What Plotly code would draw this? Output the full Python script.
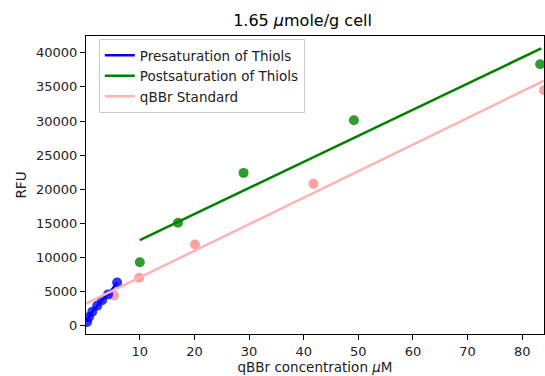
import plotly.graph_objects as go

# Data
pre_x = [0.35, 0.7, 1.3, 2.2, 3.1, 4.2, 5.85]
pre_y = [550, 1300, 2050, 2950, 3750, 4600, 6350]

post_x = [10, 17, 29, 49.2, 83.3]
post_y = [9300, 15100, 22400, 30100, 38300]
post_fit_x = [10, 83.5]
post_fit_y = [12550, 40640]

std_x = [5.25, 9.9, 20.1, 41.8, 84]
std_y = [4450, 7050, 11900, 20800, 34500]
std_fit_x = [0.15, 84]
std_fit_y = [3250, 35900]

x_ticks = [10, 20, 30, 40, 50, 60, 70, 80]
y_ticks = [0, 5000, 10000, 15000, 20000, 25000, 30000, 35000, 40000]

fig = go.Figure()
fig.add_trace(go.Scatter(x=std_x, y=std_y, mode="markers", showlegend=False, cliponaxis=True,
                         marker=dict(color="rgba(255,120,120,0.7)", size=10)))
fig.add_trace(go.Scatter(x=post_x, y=post_y, mode="markers", showlegend=False, cliponaxis=True,
                         marker=dict(color="rgba(0,128,0,0.8)", size=10)))
fig.add_trace(go.Scatter(x=pre_x, y=pre_y, mode="markers", showlegend=False, cliponaxis=True,
                         marker=dict(color="rgba(0,0,255,0.8)", size=10)))
fig.add_trace(go.Scatter(x=pre_x, y=pre_y, mode="lines", name="Presaturation of Thiols",
                         line=dict(color="#0000ff", width=2.5)))
fig.add_trace(go.Scatter(x=post_fit_x, y=post_fit_y, mode="lines", name="Postsaturation of Thiols",
                         line=dict(color="#008000", width=2.5)))
fig.add_trace(go.Scatter(x=std_fit_x, y=std_fit_y, mode="lines", name="qBBr Standard",
                         line=dict(color="#ffb3b3", width=2.5)))

axis_common = dict(showgrid=False, zeroline=False, showline=True, linecolor="black",
                   linewidth=1, mirror=True, ticks="outside", ticklen=5, tickcolor="black",
                   automargin=False, tickformat="d",
                   tickfont=dict(family="DejaVu Sans", size=13, color="#222222"))

fig.update_layout(
    width=545, height=376,
    margin=dict(l=86, r=1, t=36, b=42),
    paper_bgcolor="white", plot_bgcolor="white",
    title=dict(text="1.65 <i>μ</i>mole/g cell", x=302.5 / 545, xanchor="center",
               xref="container", yref="container", automargin=False,
               y=1 - 20 / 376, yanchor="middle",
               font=dict(family="DejaVu Sans", size=16, color="black")),
    font=dict(family="DejaVu Sans", color="black"),
    xaxis=dict(range=[0.15, 84], tickvals=x_ticks,
               title=dict(text="qBBr concentration <i>μ</i>M", standoff=4,
                          font=dict(family="DejaVu Sans", size=13.5, color="#222222")),
               **axis_common),
    yaxis=dict(range=[-1200, 42450], tickvals=y_ticks,
               title=dict(text="RFU", standoff=6,
                          font=dict(family="DejaVu Sans", size=13.5, color="#222222")),
               **axis_common),
    legend=dict(x=0.028, y=0.99, xanchor="left", yanchor="top",
                bgcolor="rgba(255,255,255,0.85)", bordercolor="#cccccc", borderwidth=1,
                font=dict(family="DejaVu Sans", size=13.5, color="#222222"), tracegroupgap=0),
)

fig.write_html("out.html", config={"displayModeBar": False},
               post_script="document.body.style.margin='0';document.body.style.overflow='hidden';")
